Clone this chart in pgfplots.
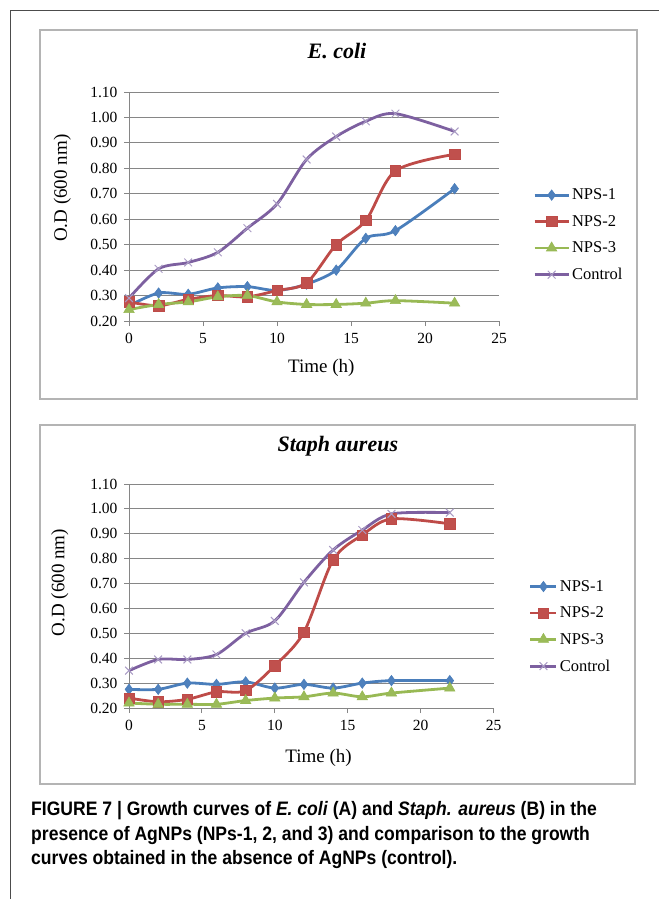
\documentclass[border=0pt]{standalone}
\usepackage{fontspec}
\setmainfont{Liberation Serif}
\newfontfamily\capfont[FakeStretch=0.9]{Liberation Sans}
\usepackage{pgfplots}
\usepackage{pgfplotstable}
\pgfplotsset{compat=1.18}

\definecolor{cA}{HTML}{4A7EBB}
\definecolor{cAf}{HTML}{4F81BD}
\definecolor{cB}{HTML}{BE4B48}
\definecolor{cBf}{HTML}{C0504D}
\definecolor{cC}{HTML}{98B954}
\definecolor{cCf}{HTML}{9BBB59}
\definecolor{cD}{HTML}{7D60A0}
\definecolor{cDm}{HTML}{A99BC4}
\definecolor{gridc}{HTML}{868686}
\definecolor{boxc}{HTML}{B4B4B4}

\pgfplotstableread{
t n1 n2 n3 c
0 0.26 0.275 0.245 0.29
2 0.31 0.26 0.265 0.405
4 0.305 0.285 0.275 0.43
6 0.33 0.30 0.295 0.47
8 0.335 0.295 0.30 0.565
10 0.32 0.32 0.275 0.66
12 0.345 0.35 0.265 0.835
14 0.40 0.50 0.265 0.925
16 0.525 0.595 0.27 0.985
18 0.555 0.79 0.28 1.015
22 0.72 0.855 0.27 0.945
}\ecoli

\pgfplotstableread{
t n1 n2 n3 c
0 0.275 0.24 0.22 0.35
2 0.275 0.225 0.215 0.395
4 0.30 0.235 0.215 0.395
6 0.295 0.265 0.215 0.415
8 0.305 0.27 0.23 0.50
10 0.28 0.37 0.24 0.55
12 0.295 0.505 0.245 0.705
14 0.28 0.795 0.26 0.835
16 0.30 0.895 0.245 0.915
18 0.31 0.96 0.26 0.98
22 0.31 0.94 0.28 0.985
}\staph

\pgfplotsset{
  growth/.style={
    scale only axis,
    xmin=0, xmax=25, ymin=0.2, ymax=1.1,
    xtick={0,5,10,15,20,25},
    ytick={0.2,0.3,0.4,0.5,0.6,0.7,0.8,0.9,1.0,1.1},
    y tick label style={/pgf/number format/.cd, fixed, fixed zerofill, precision=2, /tikz/.cd, xshift=-3pt},
    x tick label style={yshift=-4pt},
    /pgf/number format/assume math mode=true,
    axis lines=left,
    axis line style={gridc, line width=1pt, -},
    ymajorgrids,
    grid style={gridc, line width=1pt},
    tick style={gridc, line width=1pt},
    tick align=outside,
    major tick length=5pt,
    tick label style={font=\fontsize{15.5}{15.5}\selectfont, text=black},
    label style={font=\fontsize{19}{19}\selectfont},
    title style={font=\fontsize{22}{22}\selectfont\bfseries\itshape},
    clip=false,
    legend cell align=left,
    legend style={draw=none, fill=none, font=\fontsize{16.5}{16.5}\selectfont,
      anchor=west, row sep=10pt, inner sep=0pt},
  },
  s1/.style={cA, line width=2.8pt, smooth, mark=diamond*, mark size=5.2pt,
    mark options={fill=cAf, draw=cA, line width=0.6pt}},
  s2/.style={cB, line width=2.8pt, smooth, mark=square*, mark size=5.2pt,
    mark options={fill=cBf, draw=cB, line width=0.6pt}},
  s3/.style={cC, line width=2.8pt, smooth, mark=triangle*, mark size=6pt,
    mark options={fill=cCf, draw=cC, line width=0.6pt}},
  s4/.style={cD, line width=2.8pt, smooth, mark=x, mark size=5.5pt,
    mark options={draw=cDm, line width=1pt}},
}

\begin{document}
\begin{tikzpicture}
\useasboundingbox (0pt,0pt) rectangle (659pt,-899pt);
% outer figure frame
\draw[black!70, line width=1pt] (10pt,-899pt) -- (10pt,-11pt) -- (659pt,-11pt);
% chart boxes
\draw[boxc, line width=1.6pt] (40pt,-30pt) rectangle (637pt,-399pt);
\draw[boxc, line width=1.6pt] (40pt,-425pt) rectangle (635pt,-784pt);

\begin{axis}[growth,
  at={(129pt,-321pt)}, anchor=south west,
  width=370pt, height=229pt,
  title={E. coli},
  title style={at={(axis description cs:0.562,1.153)}, anchor=center},
  xlabel={Time (h)},
  xlabel style={at={(axis description cs:0.52,-0.205)}, anchor=center},
  ylabel={O.D (600 nm)},
  ylabel style={at={(axis description cs:-0.18,0.58)}, anchor=center, rotate=0},
  legend style={at={(axis description cs:1.092,0.3755)}},
  legend image code/.code={\draw[mark repeat=2,mark phase=2] plot coordinates {(0pt,0pt) (17pt,0pt) (34pt,0pt)};},
]
\addplot[s1] table[x=t,y=n1]{\ecoli};
\addplot[s2] table[x=t,y=n2]{\ecoli};
\addplot[s3] table[x=t,y=n3]{\ecoli};
\addplot[s4] table[x=t,y=c]{\ecoli};
\legend{NPS-1,NPS-2,NPS-3,Control}
\end{axis}

\begin{axis}[growth,
  at={(129pt,-708pt)}, anchor=south west,
  width=364.5pt, height=224pt,
  title={Staph aureus},
  title style={at={(axis description cs:0.573,1.143)}, anchor=center},
  xlabel={Time (h)},
  xlabel style={at={(axis description cs:0.52,-0.223)}, anchor=center},
  ylabel={O.D (600 nm)},
  ylabel style={at={(axis description cs:-0.19,0.56)}, anchor=center, rotate=0},
  legend style={at={(axis description cs:1.097,0.364)}},
  legend image code/.code={\draw[mark repeat=2,mark phase=2] plot coordinates {(0pt,0pt) (13pt,0pt) (26pt,0pt)};},
]
\addplot[s1] table[x=t,y=n1]{\staph};
\addplot[s2] table[x=t,y=n2]{\staph};
\addplot[s3] table[x=t,y=n3]{\staph};
\addplot[s4] table[x=t,y=c]{\staph};
\legend{NPS-1,NPS-2,NPS-3,Control}
\end{axis}

% caption
\node[anchor=north west, inner sep=0pt, align=left,
  font=\capfont\bfseries\fontsize{19.5}{24.8}\selectfont]
  at (31pt,-801pt)
  {FIGURE 7 | Growth curves of \textit{E. coli} (A) and \textit{Staph. aureus} (B) in the\\
   presence of AgNPs (NPs-1, 2, and 3) and comparison to the growth\\
   curves obtained in the absence of AgNPs (control).};
\end{tikzpicture}
\end{document}
